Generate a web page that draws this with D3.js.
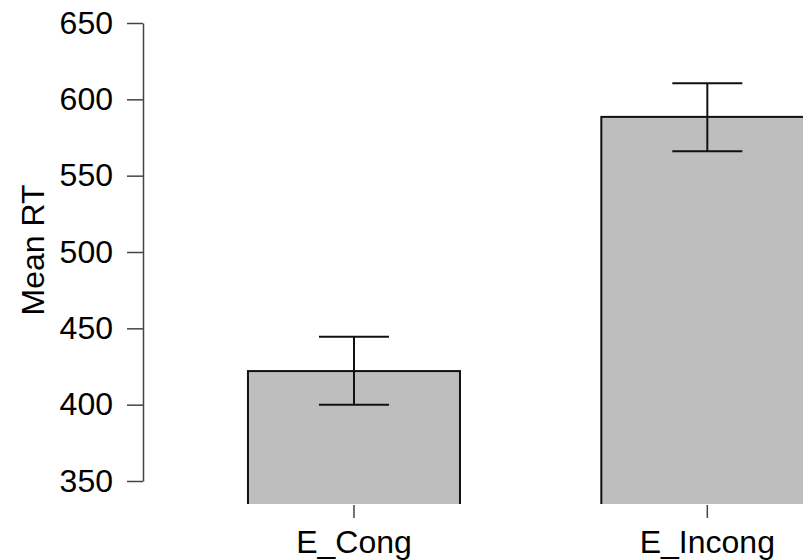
<!DOCTYPE html>
<html>
<head>
<meta charset="utf-8">
<script src="https://cdn.jsdelivr.net/npm/d3@7"></script>
<style>
  body { margin: 0; background: #fff; }
  svg text { font-family: "Liberation Sans", Arial, Helvetica, sans-serif; fill: #000; }
</style>
</head>
<body>
<div id="chart"></div>
<script>
// values
const categories = ["E_Cong", "E_Incong"];
const meanRT = [422, 588.5];
const errLow = [400, 566];
const errHigh = [444.5, 610.5];
const yTicks = [350, 400, 450, 500, 550, 600, 650];

var width = 803, height = 560;
var axisX = 143;          // left axis position
var plotBottom = 504;     // bars are clipped here (plot region edge)
var fontSize = "32px";

var svg = d3.select("#chart")
  .append("svg")
    .attr("width", width)
    .attr("height", height);

var yScale = d3.scaleLinear()
  .domain([350, 650])
  .range([481, 23]);

var xScale = d3.scaleBand()
  .domain(categories)
  .range([177.3, 884])
  .paddingInner(0.4)
  .paddingOuter(0.2);

var data = categories.map(function(c, i) {
  return {cat: c, mean: meanRT[i], lo: errLow[i], hi: errHigh[i]};
});

// clip bars to the plot region
svg.append("clipPath")
    .attr("id", "plotclip")
  .append("rect")
    .attr("x", axisX + 1)
    .attr("y", 0)
    .attr("width", width)
    .attr("height", plotBottom);

var bars = svg.append("g").attr("clip-path", "url(#plotclip)");

bars.selectAll("rect.bar").data(data)
  .enter().append("rect")
    .attr("class", "bar")
    .attr("x", function(d) { return xScale(d.cat); })
    .attr("y", function(d) { return yScale(d.mean); })
    .attr("width", xScale.bandwidth())
    .attr("height", function(d) { return plotBottom + 10 - yScale(d.mean); })
    .attr("fill", "#bebebe")
    .attr("stroke", "#111")
    .attr("stroke-width", 2);

// error bars
var capHalf = 35;
var err = svg.append("g")
  .attr("stroke", "#111")
  .attr("stroke-width", 2)
  .attr("fill", "none");

data.forEach(function(d) {
  var cx = xScale(d.cat) + xScale.bandwidth() / 2;
  err.append("line")
    .attr("x1", cx).attr("x2", cx)
    .attr("y1", yScale(d.lo)).attr("y2", yScale(d.hi));
  err.append("line")
    .attr("x1", cx - capHalf).attr("x2", cx + capHalf)
    .attr("y1", yScale(d.hi)).attr("y2", yScale(d.hi));
  err.append("line")
    .attr("x1", cx - capHalf).attr("x2", cx + capHalf)
    .attr("y1", yScale(d.lo)).attr("y2", yScale(d.lo));
});

// y axis
var yAxis = svg.append("g")
  .attr("transform", "translate(" + axisX + ",0)")
  .call(d3.axisLeft(yScale)
    .tickValues(yTicks)
    .tickSize(16)
    .tickSizeOuter(0)
    .tickPadding(14));

yAxis.selectAll("path, line")
  .attr("stroke", "#444")
  .attr("stroke-width", 1.5);
yAxis.selectAll("text")
  .attr("font-size", fontSize)
  .attr("fill", "#000")
  .style("font-family", '"Liberation Sans", Arial, sans-serif');

// x axis: ticks and labels under each bar, no line
var xAxis = svg.append("g")
  .attr("transform", "translate(0," + (plotBottom + 1) + ")")
  .call(d3.axisBottom(xScale)
    .tickSize(13)
    .tickSizeOuter(0)
    .tickPadding(12));

xAxis.select(".domain").remove();
xAxis.selectAll("line")
  .attr("stroke", "#444")
  .attr("stroke-width", 1.5);
xAxis.selectAll("text")
  .attr("font-size", fontSize)
  .attr("fill", "#000")
  .style("font-family", '"Liberation Sans", Arial, sans-serif');

// y axis title
svg.append("text")
  .attr("transform", "translate(44,250) rotate(-90)")
  .attr("text-anchor", "middle")
  .attr("font-size", fontSize)
  .text("Mean RT");
</script>
</body>
</html>
